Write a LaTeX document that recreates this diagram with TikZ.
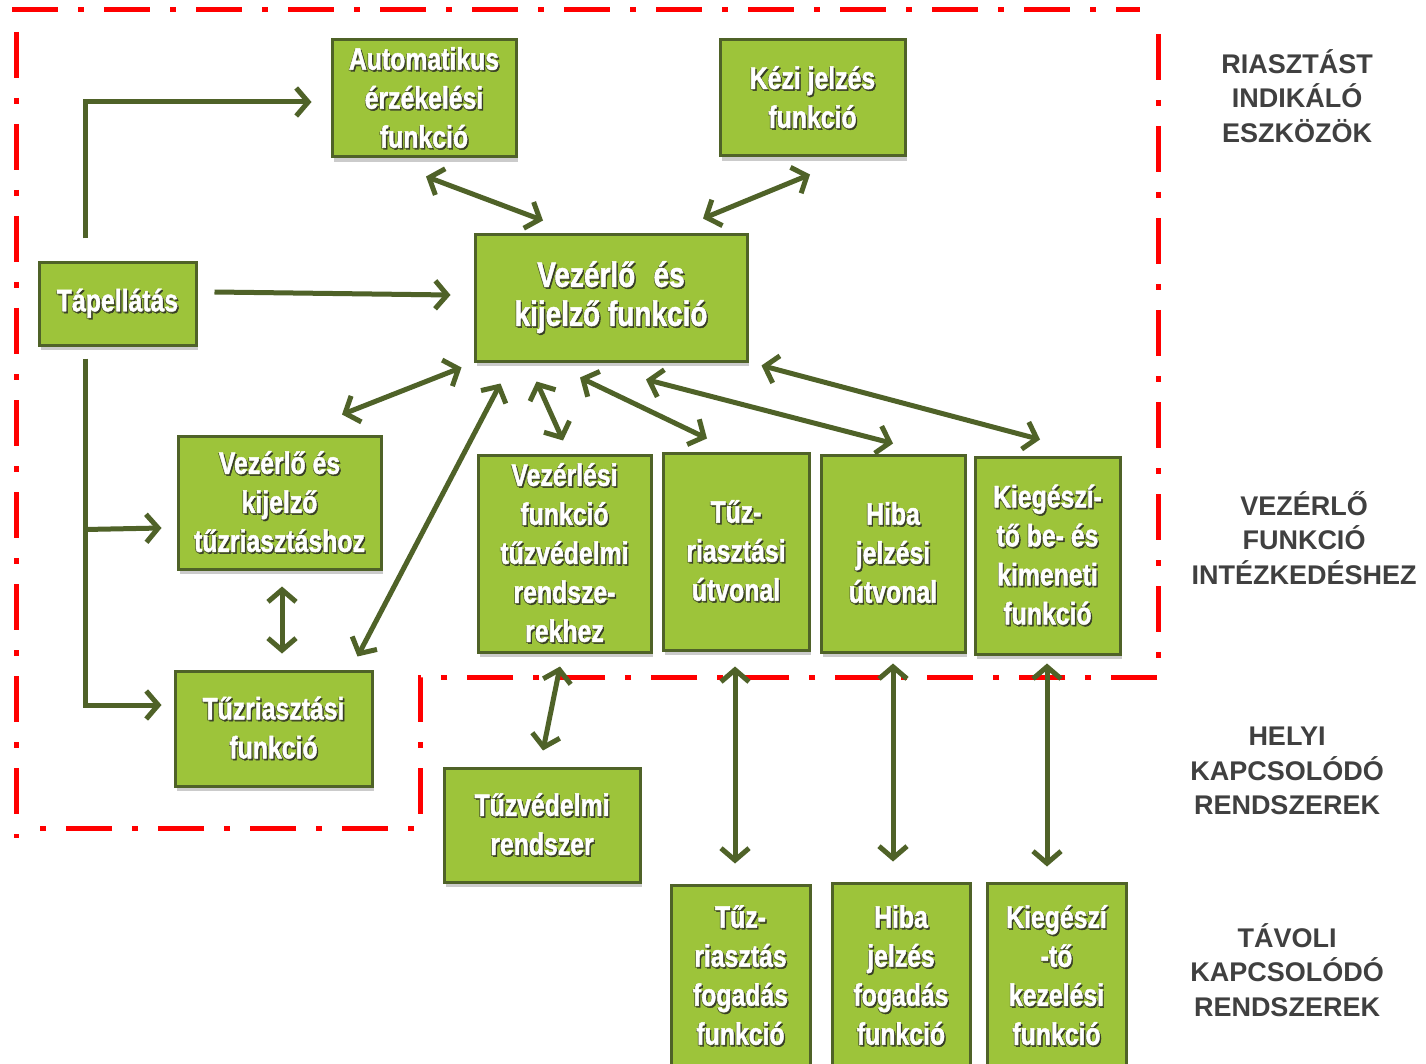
\documentclass[tikz,border=0pt]{standalone}
\usepackage{fontspec}
\setmainfont{Liberation Sans}
\newfontfamily\boxfont{Liberation Sans}[FakeStretch=0.8, BoldFeatures={FakeBold=1.4}]
\usetikzlibrary{arrows.meta,shadows,calc}
\definecolor{boxfill}{RGB}{157,196,58}
\definecolor{boxline}{RGB}{79,98,40}
\definecolor{arrc}{RGB}{79,98,40}
\definecolor{framered}{RGB}{255,0,0}
\definecolor{lblc}{RGB}{64,64,64}
\definecolor{tshc}{RGB}{55,60,40}
\newcommand\wt[1]{\leavevmode\rlap{\kern1.4pt\raisebox{-1.8pt}{\textcolor{tshc}{#1}}}\rlap{\kern-0.6pt\raisebox{-0.8pt}{\textcolor{tshc!70!boxfill}{#1}}}\textcolor{white}{#1}}
\begin{document}
\begin{tikzpicture}[x=1pt,y=-1pt,
 fbox/.style={draw=boxline, line width=3pt, fill=boxfill, inner sep=0pt, align=center,
   font=\boxfont\bfseries\fontsize{31}{39}\selectfont,
   drop shadow={shadow xshift=2pt,shadow yshift=-5pt,fill=black!45,opacity=0.45}},
 bigtxt/.style={font=\boxfont\bfseries\fontsize{35}{39}\selectfont},
 lbl/.style={align=center, text=lblc, font=\bfseries\fontsize{27}{34.5}\selectfont},
 arr/.style={draw=arrc, line width=5pt, -{Straight Barb[length=12pt,width=28pt]}},
 dbl/.style={draw=arrc, line width=5pt, {Straight Barb[length=12pt,width=28pt]}-{Straight Barb[length=12pt,width=28pt]}},
 frame/.style={draw=framered, line width=5pt, dash pattern=on 46pt off 20pt on 6pt off 20pt}
]
\clip (0,0) rectangle (1426,1064);
\fill[white] (0,0) rectangle (1426,1064);
% red frame
\draw[frame] (12,10) -- (1140,10);
\draw[frame] (1158,34) -- (1158,677) -- (420,677) -- (420,828) -- (26,828);
\draw[frame] (16,32) -- (16,838);
% boxes
\node[fbox, minimum width=184pt, minimum height=117pt] (auto) at (424,98.5) {\wt{Automatikus}\\\wt{érzékelési}\\\wt{funkció}};
\node[fbox, minimum width=185pt, minimum height=116pt] (kezi) at (812.5,98) {\wt{Kézi jelzés}\\\wt{funkció}};
\node[fbox, bigtxt, minimum width=272pt, minimum height=126pt] (ctr) at (611,298) {\wt{Vezérlő\hspace{0.3em} és}\\\wt{kijelző funkció}};
\node[fbox, minimum width=157pt, minimum height=82pt] (tap) at (117.5,304) {\wt{Tápellátás}};
\node[fbox, minimum width=203pt, minimum height=133pt] (vkt) at (279.5,502.5) {\wt{Vezérlő és}\\\wt{kijelző}\\\wt{tűzriasztáshoz}};
\node[fbox, minimum width=197pt, minimum height=115pt] (tzf) at (273.5,728.5) {\wt{Tűzriasztási}\\\wt{funkció}};
\node[fbox, minimum width=173pt, minimum height=197pt] (vf) at (564.5,553.5) {\wt{Vezérlési}\\\wt{funkció}\\\wt{tűzvédelmi}\\\wt{rendsze-}\\\wt{rekhez}};
\node[fbox, minimum width=146pt, minimum height=197pt] (tru) at (736,551.5) {\wt{Tűz-}\\\wt{riasztási}\\\wt{útvonal}};
\node[fbox, minimum width=144pt, minimum height=197pt] (hju) at (893,553.5) {\wt{Hiba}\\\wt{jelzési}\\\wt{útvonal}};
\node[fbox, minimum width=145pt, minimum height=197pt] (kbk) at (1047.5,555.5) {\wt{Kiegészí-}\\\wt{tő be- és}\\\wt{kimeneti}\\\wt{funkció}};
\node[fbox, minimum width=196pt, minimum height=114pt] (tvr) at (542,825) {\wt{Tűzvédelmi}\\\wt{rendszer}};
\node[fbox, minimum width=139pt, minimum height=182pt] (trf) at (740.5,976) {\wt{Tűz-}\\\wt{riasztás}\\\wt{fogadás}\\\wt{funkció}};
\node[fbox, minimum width=138pt, minimum height=186pt] (hjf) at (901,976) {\wt{Hiba}\\\wt{jelzés}\\\wt{fogadás}\\\wt{funkció}};
\node[fbox, minimum width=139pt, minimum height=186pt] (kkf) at (1056.5,976) {\wt{Kiegészí}\\\wt{-tő}\\\wt{kezelési}\\\wt{funkció}};
% labels
\node[lbl] (l1) at (1297,96) {RIASZTÁST\\INDIKÁLÓ\\ESZKÖZÖK};
\node[lbl] (l2) at (1304,538) {VEZÉRLŐ\\FUNKCIÓ\\INTÉZKEDÉSHEZ};
\node[lbl] (l3) at (1287,771) {HELYI\\KAPCSOLÓDÓ\\RENDSZEREK};
\node[lbl] (l4) at (1287,970) {TÁVOLI\\KAPCSOLÓDÓ\\RENDSZEREK};
% connectors
\draw[arr] ($(tap.north)+(-32.5,-23)$) |- ($(auto.west)+(-19,3.5)$);
\draw[arr] ($(tap.east)+(17,-12)$) -- ($(ctr.west)+(-23,-3)$);
\coordinate (tapd) at ($(tap.south)+(-32.5,12)$);
\draw[arr] (tapd) |- ($(tzf.west)+(-12,-23.5)$);
\draw[arr] ($(tapd)+(0,171)$) -- ($(vkt.west)+(-15,25.5)$);
\draw[dbl] ($(vkt.south)+(2.5,16)$) -- ($(tzf.north)+(8.5,-16)$);
\draw[dbl] ($(auto.south)+(2,18)$) -- ($(ctr.north)+(-68,-13)$);
\draw[dbl] ($(kezi.south)+(-2.5,17)$) -- ($(ctr.north)+(92,-15)$);
\draw[dbl] ($(ctr.south west)+(-12,5)$) -- ($(vkt.north)+(62.5,-20)$);
\draw[dbl] ($(ctr.south west)+(27,21)$) -- ($(tzf.north east)+(-16,-13)$);
\draw[dbl] ($(ctr.south west)+(63,19)$) -- ($(vf.north)+(-1.5,-13)$);
\draw[dbl] ($(ctr.south)+(-31,15)$) -- ($(tru.north)+(-29,-13)$);
\draw[dbl] ($(ctr.south)+(35,17)$) -- ($(hju.north)+(0,-10)$);
\draw[dbl] ($(ctr.south east)+(13,3)$) -- ($(kbk.north)+(-7.5,-16)$);
\draw[dbl] ($(vf.south)+(-4.5,13)$) -- ($(tvr.north)+(1,-16)$);
\draw[dbl] ($(tru.south)+(-1,15)$) -- ($(trf.north)+(-5.5,-20)$);
\draw[dbl] ($(hju.south)+(0,10)$) -- ($(hjf.north)+(-8,-20)$);
\draw[dbl] ($(kbk.south)+(-0.5,8)$) -- ($(kkf.north)+(-9.5,-15)$);
\end{tikzpicture}
\end{document}
